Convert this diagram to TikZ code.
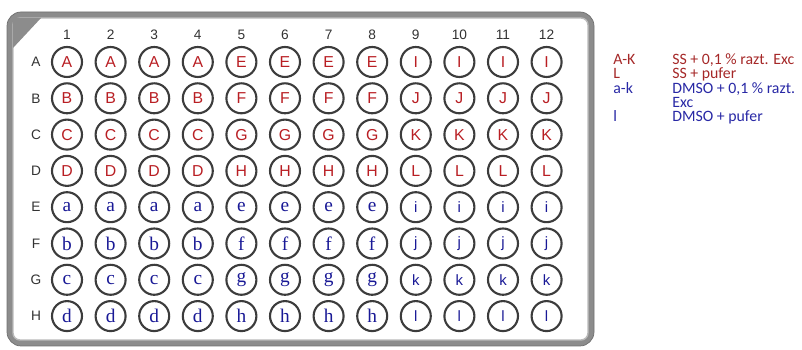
\documentclass[tikz,border=0pt]{standalone}
\usepackage{fontspec}
\setmainfont{Liberation Serif}
\setsansfont{Liberation Sans}
\newfontfamily\legendfont{Carlito}

\definecolor{wellred}{RGB}{185,30,35}
\definecolor{wellblue}{RGB}{25,25,150}
\definecolor{legred}{RGB}{165,40,40}
\definecolor{legblue}{RGB}{40,40,165}
\definecolor{platerim}{RGB}{140,140,140}
\definecolor{wellrim}{RGB}{60,60,60}

\begin{document}
\begin{tikzpicture}[x=0.02cm, y=-0.02cm,
  well/.style={circle, draw=wellrim, line width=1.2pt, minimum size=0.6cm, inner sep=0pt, fill=white},
  upw/.style={well, text=wellred, font=\sffamily\fontsize{9}{9}\selectfont},
  loww/.style={well, text=wellblue, font=\rmfamily\fontsize{11}{11}\selectfont},
  losw/.style={well, text=wellblue, font=\sffamily\fontsize{8.5}{8.5}\selectfont},
  axislbl/.style={text=black!80, font=\sffamily\fontsize{7.8}{7.8}\selectfont},
  legend/.style={anchor=base west, inner sep=0pt, font=\legendfont\fontsize{9}{9}\selectfont}
]
\useasboundingbox (0,0) rectangle (802,350);

% ---- Plate frame ----
\filldraw[fill=platerim, draw=platerim!80!black, rounded corners=8] (7,12) rectangle (594,346);
\filldraw[fill=white, draw=platerim!60, line width=0.8pt, rounded corners=4] (13,18) rectangle (588,340);
\fill[platerim] (13,18) -- (41,18) -- (13,48) -- cycle;

% ---- Column numbers and row letters ----
\foreach \c in {1,...,12}
  \node[axislbl] (col\c) at ({67+(\c-1)*43.6},35) {\c};
\foreach \r [count=\i] in {A,B,C,D,E,F,G,H}
  \node[axislbl] (row\r) at (36,{62+(\i-1)*36.3}) {\r};

% ---- Wells ----
\foreach \r/\la/\lb/\lc/\sa/\sb [count=\i] in {A/A/E/I/upw/upw, B/B/F/J/upw/upw, C/C/G/K/upw/upw, D/D/H/L/upw/upw,
    E/a/e/i/loww/losw, F/b/f/j/loww/losw, G/c/g/k/loww/losw, H/d/h/l/loww/losw}
  \foreach \c in {1,...,12} {
    \ifnum\c<5 \def\lab{\la}\def\sty{\sa}\else\ifnum\c<9 \def\lab{\lb}\def\sty{\sa}\else\def\lab{\lc}\def\sty{\sb}\fi\fi
    \node[\sty] (w\r\c) at ({67+(\c-1)*43.6},{62+(\i-1)*36.3}) {\lab};
  }

% ---- Legend ----
\node[legend, text=legred] (codeAK) at (613,65) {A-K};
\node[legend, text=legred] (descAK) at (672,65) {SS + 0,1 \% razt. Exc};
\node[legend, text=legred] (codeL) at (613,79) {L};
\node[legend, text=legred] (descL) at (672,79) {SS + pufer};
\node[legend, text=legblue] (codeak) at (613,94) {a-k};
\node[legend, text=legblue] (descak) at (672,94) {DMSO + 0,1 \% razt.};
\node[legend, text=legblue] (descexc) at (672,108) {Exc};
\node[legend, text=legblue] (codel) at (613,122) {l};
\node[legend, text=legblue] (descl) at (672,122) {DMSO + pufer};

\end{tikzpicture}
\end{document}
